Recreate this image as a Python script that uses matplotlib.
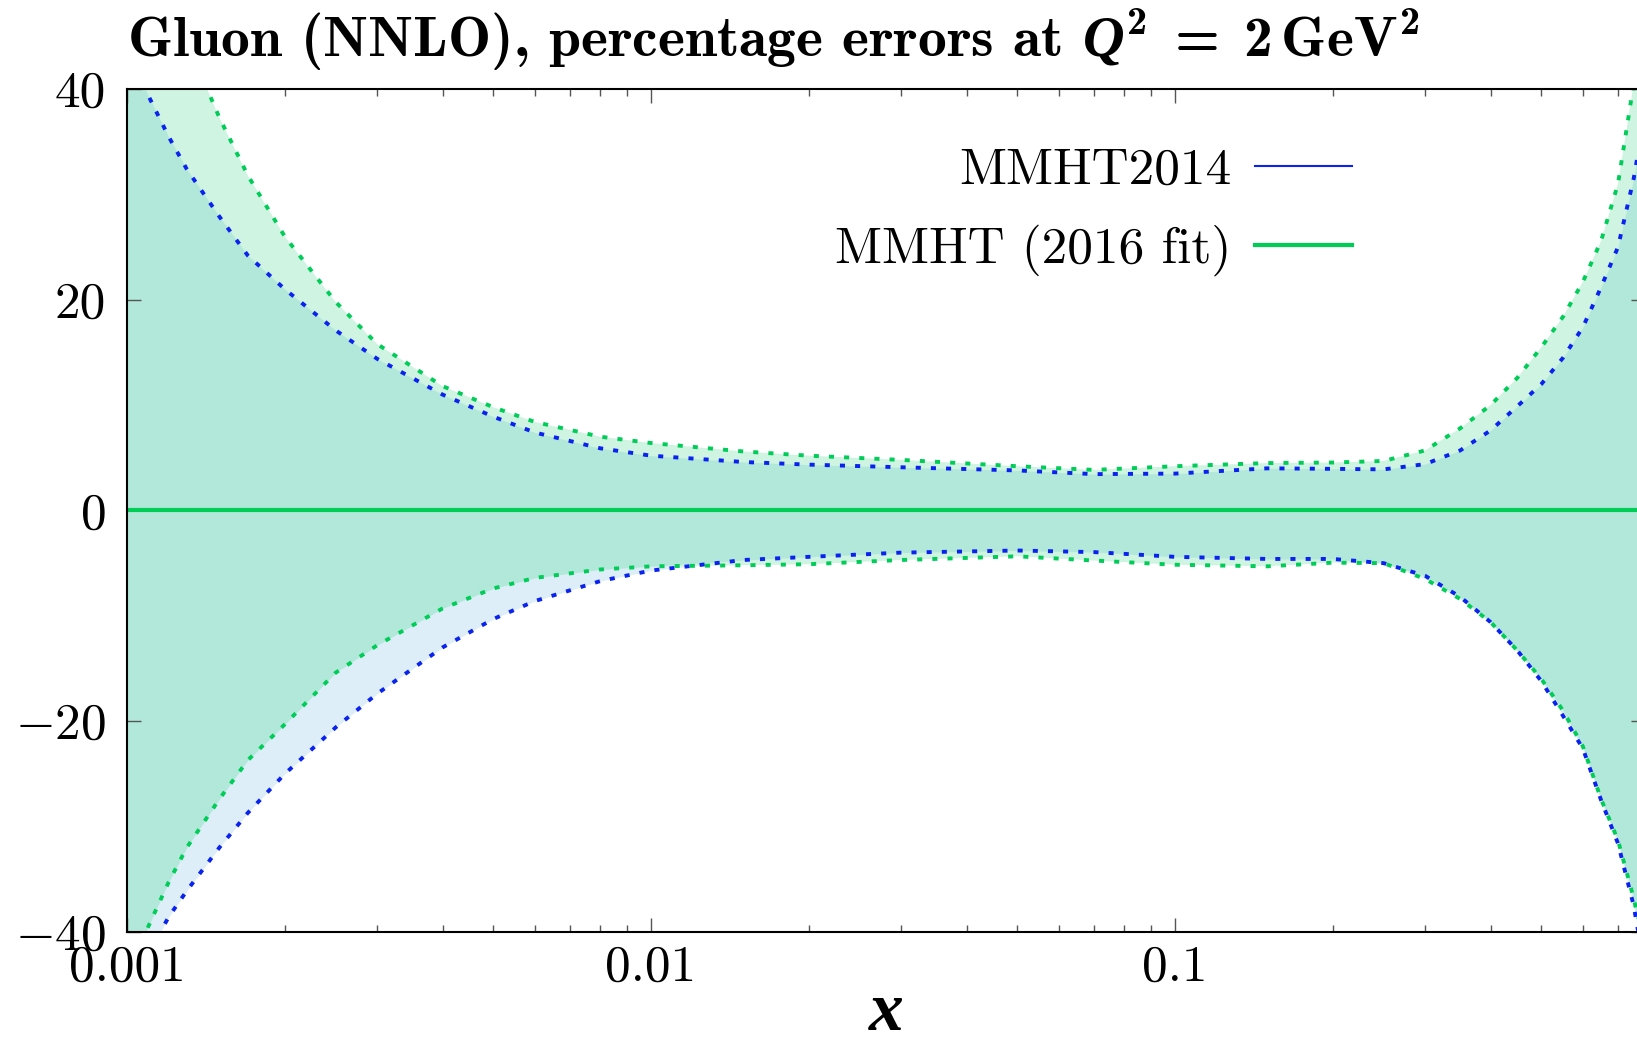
"""Gluon NNLO percentage error bands, MMHT2014 vs MMHT (2016 fit)."""

import numpy as np
from matplotlib import pyplot as plt
from matplotlib.lines import Line2D
from matplotlib.ticker import LogLocator, NullFormatter

# x grid (same for all four curves)
x = [0.001, 0.00105, 0.0011, 0.0012, 0.0013, 0.0015, 0.0017, 0.002, 0.0025,
     0.003, 0.004, 0.005, 0.006, 0.008, 0.01, 0.015, 0.02, 0.03, 0.05, 0.07,
     0.1, 0.15, 0.2, 0.25, 0.3, 0.35, 0.4, 0.45, 0.5, 0.55, 0.6, 0.65, 0.7,
     0.75, 0.79]

# MMHT2014 band (percent)
mmht14_up = [46.0, 41.5, 39.3, 35.5, 32.4, 27.9, 24.2, 21.0, 17.1, 14.4, 11.0,
             8.9, 7.4, 5.9, 5.2, 4.6, 4.35, 4.1, 3.8, 3.45, 3.5, 4.0, 3.95,
             3.9, 4.4, 5.7, 7.6, 9.9, 12.0, 14.5, 17.4, 21.2, 25.0, 31.5, 38.0]
mmht14_dn = [-47.0, -43.5, -42.0, -38.6, -36.1, -32.0, -28.7, -25.0, -20.6,
             -17.4, -13.0, -10.3, -8.6, -6.7, -5.7, -4.7, -4.4, -4.0, -3.8,
             -3.95, -4.4, -4.6, -4.6, -5.0, -6.2, -8.2, -10.6, -13.3, -16.2,
             -19.5, -22.6, -27.5, -31.6, -37.5, -44.0]

# MMHT (2016 fit) band (percent)
mmht16_up = [62.0, 58.0, 54.0, 49.0, 44.5, 37.3, 31.8, 26.0, 19.8, 15.8, 11.8,
             9.8, 8.4, 7.0, 6.4, 5.6, 5.2, 4.8, 4.2, 3.85, 4.2, 4.5, 4.55,
             4.7, 5.7, 7.8, 10.0, 12.6, 15.5, 18.4, 21.7, 25.6, 31.0, 40.5,
             48.0]
mmht16_dn = [-45.0, -41.5, -39.4, -35.3, -32.0, -27.4, -23.7, -20.3, -15.4,
             -12.8, -9.3, -7.4, -6.4, -5.6, -5.3, -5.2, -5.1, -4.7, -4.35,
             -4.75, -5.15, -5.3, -4.95, -5.0, -6.5, -8.4, -10.6, -13.3, -16.0,
             -19.0, -22.4, -27.4, -31.3, -36.8, -42.0]

central = [0.0] * len(x)

labels = ['MMHT2014', 'MMHT (2016 fit)']
xtick_vals = [0.001, 0.01, 0.1]
xtick_labels = ['0.001', '0.01', '0.1']
ytick_vals = [-40, -20, 0, 20, 40]
ytick_labels = [r'$-40$', r'$-20$', '0', '20', '40']

BLUE = '#0a22f0'
GREEN = '#00cc58'

plt.rcParams['font.family'] = 'cmr10'
plt.rcParams['mathtext.fontset'] = 'custom'
plt.rcParams['mathtext.rm'] = 'cmr10'
plt.rcParams['mathtext.it'] = 'cmmi10'
plt.rcParams['mathtext.bf'] = 'cmb10'
plt.rcParams['mathtext.bfit'] = 'Liberation Serif:bold:italic'
plt.rcParams['axes.formatter.use_mathtext'] = True

fig = plt.figure(figsize=(16.37, 10.42), dpi=100)
ax = fig.add_axes([0.0776, 0.1056, 1.005 - 0.0776, 0.809])

xa = np.array(x)
b_up, b_dn = np.array(mmht14_up), np.array(mmht14_dn)
g_up, g_dn = np.array(mmht16_up), np.array(mmht16_dn)

# band fills: blue only, green only, then the overlap on top
ax.fill_between(xa, b_dn, b_up, color='#ddeef8', lw=0)
ax.fill_between(xa, g_dn, g_up, color='#cff4e1', lw=0)
ax.fill_between(xa, np.maximum(b_dn, g_dn), np.minimum(b_up, g_up),
                color='#b2e8da', lw=0)

dots = (0, (1.3, 2.6))
ax.plot(xa, b_up, color=BLUE, lw=2.8, ls=dots)
ax.plot(xa, b_dn, color=BLUE, lw=2.8, ls=dots)
ax.plot(xa, g_up, color=GREEN, lw=2.8, ls=dots)
ax.plot(xa, g_dn, color=GREEN, lw=2.8, ls=dots)
ax.plot(xa, central, color=BLUE, lw=1.5)
ax.plot(xa, central, color=GREEN, lw=3.0)

ax.set_xscale('log')
ax.set_xlim(0.001, 10 ** -0.103)
ax.set_ylim(-40, 40)

ax.set_xticks(xtick_vals)
ax.set_xticklabels(xtick_labels)
ax.xaxis.set_minor_locator(LogLocator(base=10, subs=np.arange(2, 10)))
ax.xaxis.set_minor_formatter(NullFormatter())
ax.set_yticks(ytick_vals)
ax.set_yticklabels(ytick_labels)

ax.tick_params(which='both', direction='in', top=True, right=True,
               color='#555555', labelsize=37)
ax.tick_params(which='major', length=10, width=1.0)
ax.tick_params(which='minor', length=5, width=1.0)
ax.tick_params(axis='x', pad=9)
ax.tick_params(axis='y', pad=15)
for sp in ax.spines.values():
    sp.set_linewidth(1.5)

ax.set_xlabel(r'$\mathbfit{x}$', fontsize=50, labelpad=-6)

fig.text(127 / 1637, 1 - 57 / 1042,
         r'Gluon (NNLO), percentage errors at '
         r'$\mathbfit{Q}^{\mathbf{2}}\;\mathbf{=}\;\mathbf{2\,GeV}^{\mathbf{2}}$',
         fontsize=41.5, fontfamily='cmb10', ha='left', va='baseline')

handles = [Line2D([], [], color=BLUE, lw=1.5),
           Line2D([], [], color=GREEN, lw=3.0)]
ax.legend(handles, labels, loc='upper right', bbox_to_anchor=(0.807, 0.93),
          frameon=False, markerfirst=False, borderpad=0, borderaxespad=0,
          handlelength=1.9, handletextpad=0.45, labelspacing=0.6,
          fontsize=37)

fig.savefig('out.png', dpi=100)
